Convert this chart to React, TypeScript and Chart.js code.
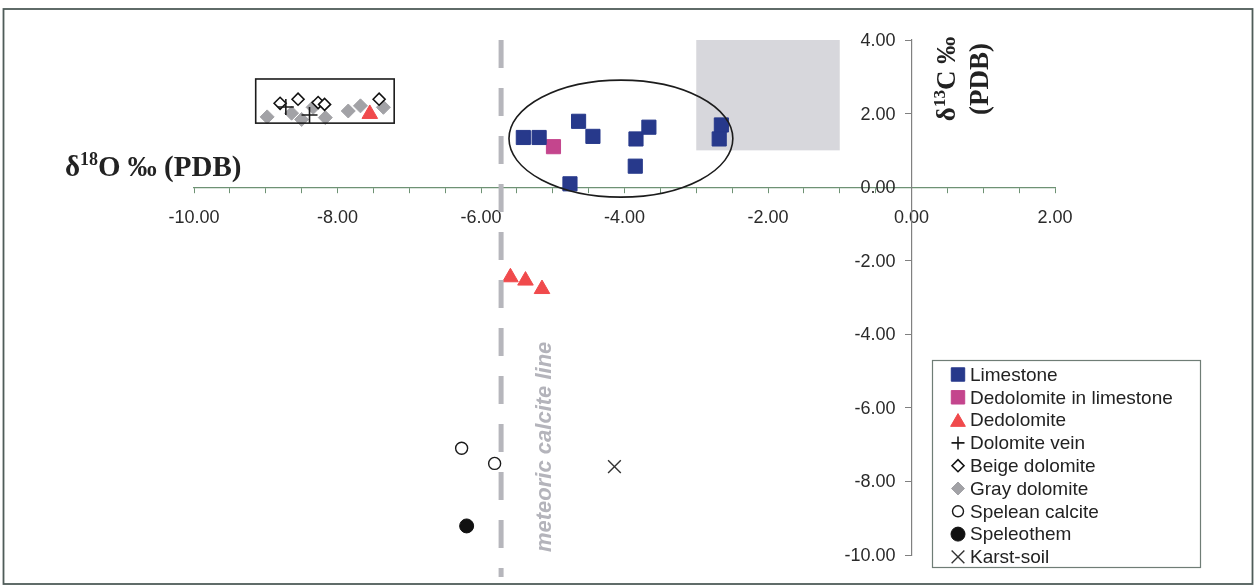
import React, { useEffect, useRef } from 'react';
import { Chart, registerables } from 'chart.js';
import { drawPoint } from 'chart.js/helpers';

Chart.register(...registerables);

// ---------- data ----------
const seriesNames = [
  'Limestone',
  'Dedolomite in limestone',
  'Dedolomite',
  'Dolomite vein',
  'Beige dolomite',
  'Gray dolomite',
  'Spelean calcite',
  'Speleothem',
  'Karst-soil',
];

const limestoneX = [-5.41, -5.19, -4.64, -4.44, -3.84, -3.66, -3.85, -4.76, -2.65, -2.68];
const limestoneY = [1.35, 1.35, 1.79, 1.38, 1.31, 1.63, 0.57, 0.09, 1.69, 1.31];

const dedolInLimeX = [-4.99];
const dedolInLimeY = [1.1];

const dedolomiteX = [-5.59, -5.38, -5.15, -7.55];
const dedolomiteY = [-2.45, -2.54, -2.77, 1.99];

const veinX = [-8.72, -8.39];
const veinY = [2.18, 1.96];

const beigeX = [-8.8, -8.55, -8.27, -8.18, -7.42];
const beigeY = [2.28, 2.39, 2.3, 2.25, 2.39];

const grayX = [-8.98, -8.64, -8.5, -8.34, -8.17, -7.85, -7.68, -7.36];
const grayY = [1.91, 2.01, 1.84, 2.17, 1.89, 2.07, 2.21, 2.17];

const speleanX = [-6.27, -5.81];
const speleanY = [-7.1, -7.51];

const speleothemX = [-6.2];
const speleothemY = [-9.21];

const karstX = [-4.14];
const karstY = [-7.6];

// axis ranges / ticks
const xRange = [-10, 2];
const xMinorStep = 0.5;
const xLabelStep = 2;
const yRange = [-10, 4];
const yStep = 2;

// annotations (data coordinates)
const shadedBoxX = [-3, -1];
const shadedBoxY = [1, 4];
const clusterBoxX = [-9.14, -7.21];
const clusterBoxY = [1.74, 2.94];
const ellipseCenter = [-4.05, 1.32];
const ellipseRadii = [1.56, 1.59];
const meteoricX = -5.72;
const meteoricY = [4, -10.6];
const meteoricLabel = 'meteoric calcite line';
const meteoricLabelPos = [-5.11, -7.06];

const xTitle = { pre: 'δ', sup: '18', post: 'O ‰ (PDB)' };
const yTitle1 = { pre: 'δ', sup: '13', post: 'C ‰' };
const yTitle2 = '(PDB)';

// ---------- styles ----------
const seriesStyles = [
  { pointStyle: 'rect', radius: 10, bg: '#27398b', border: '#27398b', bw: 1, lr: 9.5 },
  { pointStyle: 'rect', radius: 10, bg: '#c4458d', border: '#c4458d', bw: 1, lr: 9.5 },
  { pointStyle: 'triangle', radius: 9, bg: '#f04a4c', border: '#f04a4c', bw: 1, lr: 8.5 },
  { pointStyle: 'cross', radius: 8, bg: '#1a1a1a', border: '#1a1a1a', bw: 1.6, lr: 6.5 },
  { pointStyle: 'rectRot', radius: 6, bg: '#ffffff', border: '#111111', bw: 1.6, lr: 6 },
  { pointStyle: 'rectRot', radius: 7, bg: '#a2a2a6', border: '#a2a2a6', bw: 1, lr: 6.5 },
  { pointStyle: 'circle', radius: 6, bg: '#ffffff', border: '#1a1a1a', bw: 1.4, lr: 5.5 },
  { pointStyle: 'circle', radius: 7, bg: '#111111', border: '#111111', bw: 1, lr: 7 },
  { pointStyle: 'crossRot', radius: 9, bg: '#333333', border: '#333333', bw: 1.4, lr: 9 },
];

const zip = (xs: number[], ys: number[]) => xs.map((x, i) => ({ x, y: ys[i] }));

const seriesData = [
  zip(limestoneX, limestoneY),
  zip(dedolInLimeX, dedolInLimeY),
  zip(dedolomiteX, dedolomiteY),
  zip(veinX, veinY),
  zip(beigeX, beigeY),
  zip(grayX, grayY),
  zip(speleanX, speleanY),
  zip(speleothemX, speleothemY),
  zip(karstX, karstY),
];

const SANS = '"Liberation Sans", Arial, Helvetica, sans-serif';
const SERIF = '"Liberation Serif", "Times New Roman", serif';
const TICK_FONT = `18px ${SANS}`;
const TICK_COLOR = '#2a2a2a';

function drawSupText(
  ctx: CanvasRenderingContext2D,
  parts: { pre: string; sup: string; post: string },
  x: number,
  y: number,
  size: number,
  supSize: number,
  align: 'left' | 'center'
) {
  const big = `bold ${size}px ${SERIF}`;
  const small = `bold ${supSize}px ${SERIF}`;
  ctx.font = big;
  const w1 = ctx.measureText(parts.pre).width;
  const w3 = ctx.measureText(parts.post).width;
  ctx.font = small;
  const w2 = ctx.measureText(parts.sup).width;
  const total = w1 + w2 + w3;
  let sx = align === 'center' ? x - total / 2 : x;
  ctx.textAlign = 'left';
  ctx.textBaseline = 'alphabetic';
  ctx.font = big;
  ctx.fillText(parts.pre, sx, y);
  sx += w1;
  ctx.font = small;
  ctx.fillText(parts.sup, sx, y - size * 0.38);
  sx += w2;
  ctx.font = big;
  ctx.fillText(parts.post, sx, y);
}

const decorPlugin = {
  id: 'decor',
  beforeDatasetsDraw(chart: any) {
    const { ctx, scales } = chart;
    const xs = scales.x;
    const ys = scales.y;
    ctx.save();
    const x0 = xs.getPixelForValue(shadedBoxX[0]);
    const x1 = xs.getPixelForValue(shadedBoxX[1]);
    const y0 = ys.getPixelForValue(shadedBoxY[1]);
    const y1 = ys.getPixelForValue(shadedBoxY[0]);
    ctx.fillStyle = '#d7d7dc';
    ctx.fillRect(x0, y0, x1 - x0, y1 - y0);

    // y tick labels, offset to the left of the axis line
    const axisX = xs.getPixelForValue(0);
    ctx.font = TICK_FONT;
    ctx.fillStyle = TICK_COLOR;
    ctx.textAlign = 'right';
    ctx.textBaseline = 'middle';
    ys.ticks.forEach((t: any) => {
      ctx.fillText(Number(t.value).toFixed(2), axisX - 16, ys.getPixelForValue(t.value) + 1);
    });
    ctx.restore();
  },
  afterDatasetsDraw(chart: any) {
    const { ctx, scales } = chart;
    const xs = scales.x;
    const ys = scales.y;
    ctx.save();
    // ellipse
    const cx = xs.getPixelForValue(ellipseCenter[0]);
    const cy = ys.getPixelForValue(ellipseCenter[1]);
    const rx = xs.getPixelForValue(ellipseCenter[0] + ellipseRadii[0]) - cx;
    const ry = cy - ys.getPixelForValue(ellipseCenter[1] + ellipseRadii[1]);
    ctx.beginPath();
    ctx.ellipse(cx, cy, rx, ry, 0, 0, Math.PI * 2);
    ctx.strokeStyle = '#1c1c1c';
    ctx.lineWidth = 1.6;
    ctx.stroke();
    // cluster box
    const bx0 = xs.getPixelForValue(clusterBoxX[0]);
    const bx1 = xs.getPixelForValue(clusterBoxX[1]);
    const by0 = ys.getPixelForValue(clusterBoxY[1]);
    const by1 = ys.getPixelForValue(clusterBoxY[0]);
    ctx.strokeStyle = '#1c1c1c';
    ctx.lineWidth = 1.6;
    ctx.strokeRect(bx0, by0, bx1 - bx0, by1 - by0);
    // meteoric line
    const mx = xs.getPixelForValue(meteoricX);
    ctx.beginPath();
    ctx.setLineDash([28, 20]);
    ctx.moveTo(mx, ys.getPixelForValue(meteoricY[0]));
    ctx.lineTo(mx, ys.getPixelForValue(meteoricY[1]));
    ctx.strokeStyle = '#b6b6bc';
    ctx.lineWidth = 5;
    ctx.stroke();
    ctx.setLineDash([]);
    // meteoric label
    const tx = xs.getPixelForValue(meteoricLabelPos[0]);
    const ty = ys.getPixelForValue(meteoricLabelPos[1]);
    ctx.translate(tx, ty);
    ctx.rotate(-Math.PI / 2);
    ctx.font = `italic bold 22px ${SANS}`;
    ctx.fillStyle = '#b4b4bb';
    ctx.textAlign = 'center';
    ctx.textBaseline = 'middle';
    ctx.fillText(meteoricLabel, 0, 0);
    ctx.restore();
  },
  afterDraw(chart: any) {
    const { ctx } = chart;
    ctx.save();
    // x axis title
    ctx.fillStyle = '#222222';
    drawSupText(ctx, xTitle, 65, 176, 29, 18, 'left');
    // y axis title (rotated)
    ctx.save();
    ctx.translate(955, 79);
    ctx.rotate(-Math.PI / 2);
    drawSupText(ctx, yTitle1, 0, 0, 27, 17, 'center');
    ctx.restore();
    ctx.save();
    ctx.translate(988, 79);
    ctx.rotate(-Math.PI / 2);
    ctx.font = `bold 27px ${SERIF}`;
    ctx.textAlign = 'center';
    ctx.textBaseline = 'alphabetic';
    ctx.fillText(yTitle2, 0, 0);
    ctx.restore();

    // legend
    const lx = 932;
    const ly = 360;
    const lw = 268;
    const lh = 207;
    ctx.fillStyle = '#ffffff';
    ctx.fillRect(lx, ly, lw, lh);
    ctx.strokeStyle = '#6f7d76';
    ctx.lineWidth = 1.2;
    ctx.strokeRect(lx + 0.5, ly + 0.5, lw, lh);
    seriesNames.forEach((name, i) => {
      const st = seriesStyles[i];
      const yy = 374.5 + i * 22.8;
      ctx.fillStyle = st.bg;
      ctx.strokeStyle = st.border;
      ctx.lineWidth = st.bw;
      drawPoint(ctx, { pointStyle: st.pointStyle, rotation: 0, radius: st.lr, borderWidth: st.bw } as any, 958, yy + (st.pointStyle === 'triangle' ? 2 : 0));
      ctx.fillStyle = '#222222';
      ctx.font = `19px ${SANS}`;
      ctx.textAlign = 'left';
      ctx.textBaseline = 'middle';
      ctx.fillText(name, 970, yy + 1);
    });

    // outer frame
    ctx.strokeStyle = '#4f5c59';
    ctx.lineWidth = 1.8;
    ctx.strokeRect(3.5, 9, 1249, 575);
    ctx.restore();
  },
};

export default function App() {
  const canvasRef = useRef<HTMLCanvasElement | null>(null);

  useEffect(() => {
    const canvas = canvasRef.current;
    if (!canvas) return;
    const datasets = seriesNames.map((name, i) => {
      const st = seriesStyles[i];
      return {
        label: name,
        data: seriesData[i],
        pointStyle: st.pointStyle,
        pointRadius: st.radius,
        pointHoverRadius: st.radius,
        backgroundColor: st.bg,
        borderColor: st.border,
        pointBorderWidth: st.bw,
        borderWidth: st.bw,
        showLine: false,
        clip: false,
      };
    });

    const chart = new Chart(canvas, {
      type: 'scatter',
      data: { datasets: datasets as any },
      options: {
        animation: false,
        responsive: false,
        maintainAspectRatio: false,
        layout: { padding: { left: 194, right: 201, top: 40, bottom: 32 } },
        plugins: {
          legend: { display: false },
          tooltip: { enabled: false },
          title: { display: false },
        },
        scales: {
          x: {
            type: 'linear',
            position: { y: 0 } as any,
            min: xRange[0],
            max: xRange[1],
            grid: {
              drawOnChartArea: false,
              drawTicks: true,
              tickLength: 5,
              color: '#6e9274',
            },
            border: { display: true, color: '#6e9274', width: 1.2 },
            ticks: {
              stepSize: xMinorStep,
              autoSkip: false,
              maxRotation: 0,
              minRotation: 0,
              padding: 15,
              color: TICK_COLOR,
              font: { family: SANS, size: 18 },
              callback: (v: any) => {
                const n = Number(v);
                return Math.abs(n % xLabelStep) < 1e-9 ? n.toFixed(2) : '';
              },
            },
          },
          y: {
            type: 'linear',
            position: { x: 0 } as any,
            min: yRange[0],
            max: yRange[1],
            grid: {
              drawOnChartArea: false,
              drawTicks: true,
              tickLength: 6,
              color: '#808080',
            },
            border: { display: true, color: '#808080', width: 1.2 },
            ticks: {
              stepSize: yStep,
              autoSkip: false,
              display: false,
            },
          },
        },
      },
      plugins: [decorPlugin as any],
    });
    return () => chart.destroy();
  }, []);

  return (
    <div
      style={{
        position: 'fixed',
        left: 0,
        top: 0,
        width: 1256,
        height: 587,
        background: '#ffffff',
      }}
    >
      <canvas ref={canvasRef} width={1256} height={587} style={{ display: 'block' }} />
    </div>
  );
}
